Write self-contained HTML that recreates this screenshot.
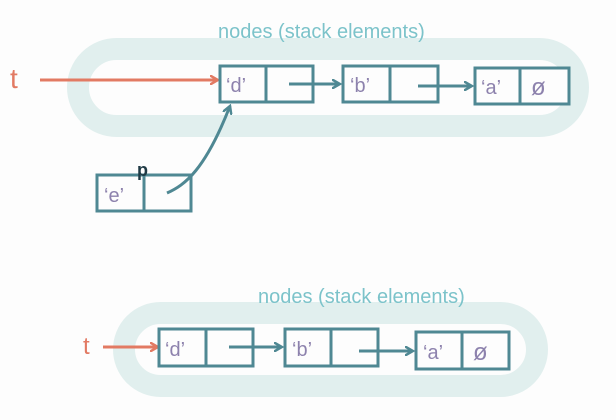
<!DOCTYPE html>
<html><head><meta charset="utf-8"><style>
html,body{margin:0;padding:0;background:#fdfdfd;}
svg{display:block;}
text{font-family:"Liberation Sans",sans-serif;}
</style></head><body>
<svg width="616" height="420" viewBox="0 0 616 420" xmlns="http://www.w3.org/2000/svg">
<defs>
<marker id="at" markerWidth="10" markerHeight="10" refX="8" refY="5" orient="auto" markerUnits="userSpaceOnUse"><path d="M1,1 L8,5 L1,9" fill="none" stroke="#4f8893" stroke-width="2.5" stroke-linecap="round"/></marker>
<marker id="ao" markerWidth="10" markerHeight="10" refX="8" refY="5" orient="auto" markerUnits="userSpaceOnUse"><path d="M1,1 L8,5 L1,9" fill="none" stroke="#e27a63" stroke-width="2.5" stroke-linecap="round"/></marker>
</defs>
<rect x="78" y="49" width="500" height="77" rx="38.5" fill="none" stroke="#e1efee" stroke-width="22"/>
<text x="218" y="38" font-size="20" fill="#7cc3ca">nodes (stack elements)</text>
<text x="10" y="88" font-size="28" fill="#e27a63">t</text>
<line x1="40" y1="80" x2="218" y2="80" stroke="#e27a63" stroke-width="3" marker-end="url(#ao)"/>
<g fill="#fdfdfd" stroke="#4f8893" stroke-width="3">
<rect x="220" y="66" width="93" height="36"/><line x1="266" y1="66" x2="266" y2="102"/>
<rect x="343" y="66" width="95" height="36"/><line x1="390" y1="66" x2="390" y2="102"/>
<rect x="475" y="68" width="94" height="36"/><line x1="520" y1="68" x2="520" y2="104"/>
</g>
<g fill="none" stroke="#4f8893" stroke-width="3">
<line x1="289" y1="84" x2="340" y2="84" marker-end="url(#at)"/>
<line x1="418" y1="86" x2="472" y2="86" marker-end="url(#at)"/>
<path d="M167 193 C185 185 205 170 230 106" marker-end="url(#at)"/>
</g>
<g font-size="20" fill="#8d82ad">
<text x="226" y="92">‘d’</text>
<text x="350" y="92">‘b’</text>
<text x="481" y="94">‘a’</text>
<text x="531" y="95" font-size="24">ø</text>
<text x="104" y="202">‘e’</text>
</g>
<g fill="none" stroke="#4f8893" stroke-width="3">
<rect x="97" y="175" width="94" height="36"/><line x1="144" y1="175" x2="144" y2="211"/>
</g>
<text x="137" y="176" font-size="18" font-weight="bold" fill="#1f3a45">p</text>
<rect x="124" y="313" width="413" height="73" rx="36.5" fill="none" stroke="#e1efee" stroke-width="22"/>
<text x="258" y="303" font-size="20" fill="#7cc3ca">nodes (stack elements)</text>
<text x="83" y="354" font-size="24" fill="#e27a63">t</text>
<line x1="103" y1="347" x2="158" y2="347" stroke="#e27a63" stroke-width="3" marker-end="url(#ao)"/>
<g fill="#fdfdfd" stroke="#4f8893" stroke-width="3">
<rect x="159" y="329" width="94" height="37"/><line x1="206" y1="329" x2="206" y2="366"/>
<rect x="285" y="329" width="93" height="37"/><line x1="331" y1="329" x2="331" y2="366"/>
<rect x="416" y="332" width="93" height="37"/><line x1="462" y1="332" x2="462" y2="369"/>
</g>
<g fill="none" stroke="#4f8893" stroke-width="3">
<line x1="229" y1="347" x2="282" y2="347" marker-end="url(#at)"/>
<line x1="359" y1="351" x2="413" y2="351" marker-end="url(#at)"/>
</g>
<g font-size="20" fill="#8d82ad">
<text x="165" y="356">‘d’</text>
<text x="292" y="356">‘b’</text>
<text x="423" y="359">‘a’</text>
<text x="473" y="360" font-size="24">ø</text>
</g>
</svg>
</body></html>
